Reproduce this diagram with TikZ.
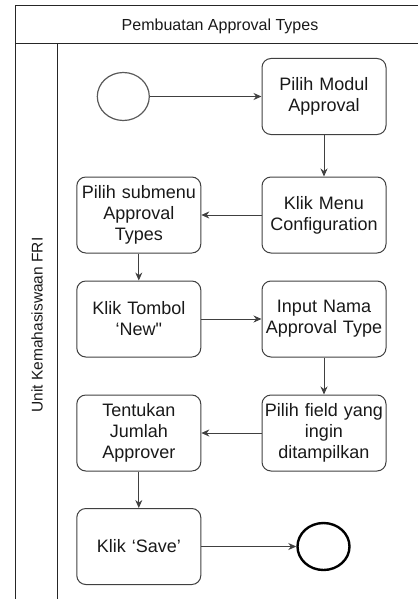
\documentclass[tikz,border=0pt]{standalone}
\usepackage{fontspec}
\setmainfont{Liberation Sans}[Ligatures=TeXOff]
\usetikzlibrary{arrows.meta}
\usetikzlibrary{positioning}
\usetikzlibrary{shapes.geometric}

\begin{document}
\begin{tikzpicture}[x=1pt, y=-1pt,
        act/.style={draw=black!75, line width=1pt, rounded corners=9pt, minimum width=124pt, minimum height=76pt, text width=122pt, inner xsep=1pt, align=center, font=\fontsize{18}{21}\selectfont, text=black!90},
        flow/.style={->, >={Stealth[length=8pt, width=7pt]}, draw=black!75, line width=0.9pt}]
    \useasboundingbox (0, 0) rectangle (418, 599);

    % swimlane
    \draw[line width=1pt, black!85](15.7, 599)--(15.7, 6)--(418, 6);
    \draw[line width=1pt, black!85](15.7, 44)--(418, 44);
    \draw[line width=1pt, black!85](57, 44)--(57, 599);
    \node[font=\fontsize{16}{19}\selectfont, text=black!90](judul) at (220, 26){Pembuatan Approval Types};
    \node[rotate=90, font=\fontsize{15.5}{18}\selectfont, text=black!90](lane) at (37, 325){Unit Kemahasiswaan FRI};

    % aktivitas
    \node[draw=black!65, line width=1.2pt, ellipse, minimum width=52pt, minimum height=48pt, inner sep=0pt](mulai) at (123.3, 96.5){};
    \node[act](modul) at (324, 96.5){Pilih Modul\\Approval};
    \node[act](config) at (324, 215){Klik Menu\\Configuration};
    \node[act](submenu) at (138.8, 215){Pilih submenu\\Approval\\Types};
    \node[act](tombol) at (138.8, 319){Klik Tombol\\‘New"};
    \node[act](nama) at (324, 319){Input Nama\\Approval Type};
    \node[act](field) at (324, 433){Pilih field yang\\ingin\\ditampilkan};
    \node[act](jumlah) at (138.8, 433){Tentukan\\Jumlah\\Approver};
    \node[act](simpan) at (138.8, 546.5){Klik ‘Save’};
    \node[draw=black, line width=2.4pt, ellipse, minimum width=52pt, minimum height=47pt, inner sep=0pt](selesai) at (323.5, 546.5){};

    % alur
    \draw[flow](mulai)--(modul);
    \draw[flow](modul)--(config);
    \draw[flow](config)--(submenu);
    \draw[flow](submenu)--(tombol);
    \draw[flow](tombol)--(nama);
    \draw[flow](nama)--(field);
    \draw[flow](field)--(jumlah);
    \draw[flow](jumlah)--(simpan);
    \draw[flow](simpan)--(selesai);
\end{tikzpicture}
\end{document}
